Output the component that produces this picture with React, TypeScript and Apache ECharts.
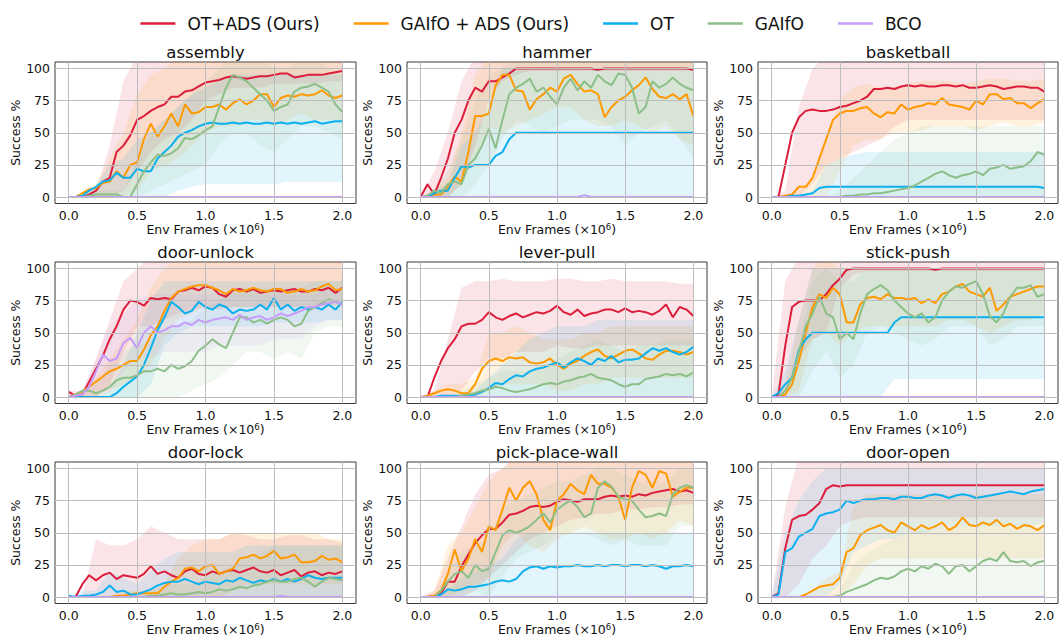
import React, { useEffect, useRef } from "react";
import * as echarts from "echarts";

const FRAMES = [0, 0.05, 0.1, 0.15, 0.2, 0.25, 0.3, 0.35, 0.4, 0.45, 0.5, 0.55, 0.6, 0.65, 0.7, 0.75, 0.8, 0.85, 0.9, 0.95, 1.0, 1.05, 1.1, 1.15, 1.2, 1.25, 1.3, 1.35, 1.4, 1.45, 1.5, 1.55, 1.6, 1.65, 1.7, 1.75, 1.8, 1.85, 1.9, 1.95, 2.0];
const BAND_FRAMES = [0, 0.1, 0.2, 0.3, 0.4, 0.5, 0.6, 0.7, 0.8, 0.9, 1.0, 1.1, 1.2, 1.3, 1.4, 1.5, 1.6, 1.7, 1.8, 1.9, 2.0];
const X_TICKS = [0, 0.5, 1.0, 1.5, 2.0];
const Y_TICKS = [0, 25, 50, 75, 100];
const METHODS = ["OT+ADS (Ours)", "GAIfO + ADS (Ours)", "OT", "GAIfO", "BCO"];
const COLORS = ["#dc1e3c", "#ff9900", "#0db0ee", "#8cbf88", "#c69cfa"];
const TASKS = ["assembly", "hammer", "basketball", "door-unlock", "lever-pull", "stick-push", "door-lock", "pick-place-wall", "door-open"];

const ZERO41 = [0, 0, 0, 0, 0, 0, 0, 0, 0, 0, 0, 0, 0, 0, 0, 0, 0, 0, 0, 0, 0, 0, 0, 0, 0, 0, 0, 0, 0, 0, 0, 0, 0, 0, 0, 0, 0, 0, 0, 0, 0];
const ZERO21 = [0, 0, 0, 0, 0, 0, 0, 0, 0, 0, 0, 0, 0, 0, 0, 0, 0, 0, 0, 0, 0];

// ---------- assembly ----------
const assembly_otAds = [0, 0, 0, 2, 5, 12, 15, 35, 40, 48, 60, 63, 67, 70, 72, 78, 78, 82, 83, 86, 89, 90, 91, 93, 94, 93, 92, 93, 94, 94, 95, 96, 96, 93, 94, 95, 95, 95, 96, 97, 98];
const assembly_gaifoAds = [0, 0, 3, 6, 7, 11, 12, 20, 15, 25, 27, 45, 57, 47, 55, 65, 55, 72, 65, 66, 70, 70, 72, 68, 73, 76, 72, 75, 80, 80, 70, 77, 79, 78, 80, 79, 80, 83, 79, 77, 79];
const assembly_ot = [0, 0, 1, 5, 8, 12, 13, 19, 15, 15, 22, 20, 20, 30, 35, 40, 47, 50, 52, 55, 57, 58, 57, 57, 58, 57, 58, 57, 57, 58, 57, 58, 57, 58, 57, 58, 59, 57, 58, 59, 59];
const assembly_gaifo = [0, 0, 0, 1, 2, 2, 2, 2, 0, 0, 10, 20, 27, 33, 32, 34, 38, 46, 45, 48, 52, 55, 70, 85, 95, 93, 90, 85, 80, 75, 67, 70, 72, 82, 85, 86, 88, 85, 82, 72, 66];
const assembly_bco = ZERO41;
const assembly_otAds_lo = [0, 0, 0, 0, 5, 20, 35, 45, 50, 60, 75, 80, 85, 85, 85, 88, 88, 88, 88, 90, 90];
const assembly_otAds_hi = [0, 0, 5, 40, 90, 110, 110, 110, 110, 110, 110, 110, 110, 110, 110, 110, 110, 110, 110, 110, 110];
const assembly_gaifoAds_lo = [0, 0, 0, 0, 0, 5, 20, 25, 30, 40, 50, 55, 55, 60, 60, 55, 60, 65, 60, 60, 60];
const assembly_gaifoAds_hi = [0, 0, 10, 30, 50, 80, 95, 100, 110, 110, 110, 110, 110, 110, 110, 110, 110, 110, 110, 110, 110];
const assembly_ot_lo = [0, 0, 0, 0, 0, 0, 0, 0, 5, 8, 10, 10, 10, 10, 10, 10, 12, 12, 12, 12, 12];
const assembly_ot_hi = [0, 0, 10, 25, 30, 45, 50, 60, 70, 80, 85, 90, 95, 95, 95, 95, 95, 95, 95, 95, 95];
const assembly_gaifo_lo = [0, 0, 0, 0, 0, 0, 5, 10, 15, 20, 25, 40, 50, 50, 40, 35, 45, 55, 55, 50, 45];
const assembly_gaifo_hi = [0, 0, 5, 5, 5, 30, 50, 60, 70, 80, 90, 100, 110, 110, 110, 100, 100, 110, 110, 100, 95];

// ---------- hammer ----------
const hammer_otAds = [0, 10, 2, 15, 30, 50, 60, 75, 85, 82, 90, 90, 93, 96, 100, 100, 100, 100, 100, 100, 100, 100, 100, 100, 100, 100, 99, 100, 100, 100, 100, 100, 100, 100, 100, 100, 100, 100, 100, 100, 99];
const hammer_gaifoAds = [0, 0, 2, 2, 8, 16, 12, 35, 63, 63, 65, 87, 95, 95, 83, 82, 68, 76, 80, 85, 82, 92, 95, 88, 82, 83, 80, 62, 70, 75, 78, 83, 87, 93, 84, 78, 77, 80, 76, 80, 63];
const hammer_ot = [0, 0, 3, 5, 5, 15, 24, 23, 25, 25, 25, 32, 35, 45, 50, 50, 50, 50, 50, 50, 50, 50, 50, 50, 50, 50, 50, 50, 50, 50, 50, 50, 50, 50, 50, 50, 50, 50, 50, 50, 50];
const hammer_gaifo = [0, 1, 5, 3, 10, 12, 10, 25, 30, 40, 53, 38, 60, 80, 85, 88, 92, 82, 85, 78, 72, 85, 92, 83, 90, 85, 95, 90, 87, 96, 95, 85, 65, 70, 90, 85, 88, 93, 88, 85, 83];
const hammer_bco = [0, 0, 0, 0, 0, 0, 0, 0, 0, 0, 0, 0, 0, 0, 0, 0, 0, 0, 0, 0, 0, 0, 0, 0, 1.5, 0, 0, 0, 0, 0, 0, 0, 0, 0, 0, 0, 0, 0, 0, 0, 0];
const hammer_otAds_lo = [0, 0, 0, 10, 40, 75, 90, 95, 98, 98, 98, 98, 98, 98, 98, 98, 98, 98, 98, 98, 98];
const hammer_otAds_hi = [0, 20, 50, 90, 110, 110, 110, 110, 110, 110, 110, 110, 110, 110, 110, 110, 110, 110, 110, 110, 110];
const hammer_gaifoAds_lo = [0, 0, 0, 10, 30, 55, 50, 55, 60, 65, 70, 70, 60, 55, 55, 60, 55, 50, 55, 45, 40];
const hammer_gaifoAds_hi = [0, 5, 15, 50, 95, 110, 110, 110, 110, 110, 110, 110, 110, 110, 110, 110, 110, 110, 110, 110, 110];
const hammer_ot_lo = ZERO21;
const hammer_ot_hi = [0, 5, 10, 40, 50, 70, 100, 100, 100, 100, 100, 100, 100, 100, 100, 100, 100, 100, 100, 100, 100];
const hammer_gaifo_lo = [0, 0, 0, 0, 10, 25, 45, 60, 55, 50, 55, 60, 60, 60, 55, 40, 50, 55, 60, 45, 30];
const hammer_gaifo_hi = [0, 5, 20, 45, 75, 95, 100, 110, 110, 110, 110, 110, 110, 110, 110, 110, 110, 110, 110, 110, 110];

// ---------- basketball ----------
const basketball_otAds = [0, 0, 25, 50, 62, 67, 68, 67, 67, 68, 70, 71, 73, 75, 78, 84, 84, 85, 84, 86, 87, 86, 87, 86, 86, 87, 87, 86, 87, 85, 85, 86, 87, 86, 84, 85, 86, 86, 85, 85, 82];
const basketball_gaifoAds = [0, 0, 1, 2, 8, 8, 15, 30, 45, 60, 65, 67, 67, 69, 70, 65, 62, 66, 65, 72, 68, 70, 71, 73, 72, 77, 72, 71, 70, 68, 75, 72, 80, 80, 76, 77, 73, 73, 69, 73, 76];
const basketball_ot = [0, 0, 0, 1, 1, 2, 3, 7, 8, 8, 8, 8, 8, 8, 8, 8, 8, 8, 8, 8, 8, 8, 8, 8, 8, 8, 8, 8, 8, 8, 8, 8, 8, 8, 8, 8, 8, 8, 8, 8, 7];
const basketball_gaifo = [0, 0, 0, 0, 0, 0, 0, 0, 0, 0, 0, 1, 1, 2, 2, 3, 3, 4, 5, 6, 7, 9, 12, 15, 18, 20, 17, 15, 17, 18, 20, 17, 22, 23, 25, 22, 23, 24, 28, 35, 33];
const basketball_bco = ZERO41;
const basketball_otAds_lo = [0, 0, 0, 10, 25, 30, 35, 40, 45, 55, 60, 60, 60, 60, 60, 60, 60, 60, 60, 60, 60];
const basketball_otAds_hi = [0, 5, 70, 100, 110, 110, 110, 110, 110, 110, 110, 110, 110, 110, 110, 110, 110, 110, 110, 110, 110];
const basketball_gaifoAds_lo = [0, 0, 0, 0, 0, 20, 40, 45, 45, 50, 50, 52, 55, 55, 55, 52, 55, 58, 55, 55, 58];
const basketball_gaifoAds_hi = [0, 0, 5, 15, 45, 75, 85, 88, 85, 85, 88, 90, 90, 90, 88, 90, 92, 92, 90, 90, 92];
const basketball_ot_lo = ZERO21;
const basketball_ot_hi = [0, 0, 0, 5, 25, 30, 33, 35, 35, 35, 35, 35, 35, 35, 35, 35, 35, 35, 35, 35, 35];
const basketball_gaifo_lo = ZERO21;
const basketball_gaifo_hi = [0, 0, 0, 0, 0, 5, 15, 25, 35, 45, 50, 55, 55, 55, 55, 55, 55, 55, 55, 55, 55];

// ---------- door-unlock ----------
const doorUnlock_otAds = [4, 1, 2, 12, 22, 32, 45, 55, 68, 75, 74, 71, 77, 76, 77, 76, 82, 83, 85, 83, 86, 85, 80, 78, 83, 84, 82, 84, 81, 82, 83, 82, 83, 84, 82, 82, 84, 83, 85, 81, 85];
const doorUnlock_gaifoAds = [0, 2, 4, 8, 12, 16, 20, 22, 25, 28, 28, 37, 48, 55, 67, 77, 82, 84, 86, 87, 87, 85, 83, 80, 84, 82, 83, 85, 83, 82, 84, 84, 81, 82, 84, 82, 83, 86, 88, 83, 84];
const doorUnlock_ot = [0, 0, 0, 0, 0, 0, 0, 3, 8, 12, 16, 25, 38, 52, 62, 74, 70, 65, 67, 74, 70, 68, 72, 70, 65, 68, 67, 68, 72, 68, 77, 68, 72, 67, 70, 68, 70, 68, 72, 68, 74];
const doorUnlock_gaifo = [0, 2, 5, 5, 3, 5, 8, 13, 15, 15, 17, 20, 20, 22, 20, 25, 22, 24, 28, 36, 40, 45, 41, 38, 50, 62, 62, 58, 60, 57, 60, 62, 60, 55, 57, 67, 70, 73, 76, 74, 72];
const doorUnlock_bco = [0, 1, 2, 8, 20, 33, 28, 30, 42, 46, 38, 50, 55, 50, 52, 55, 55, 58, 56, 60, 58, 60, 61, 62, 60, 64, 60, 62, 63, 60, 62, 65, 63, 65, 67, 70, 70, 72, 73, 74, 72];
const doorUnlock_otAds_lo = [0, 0, 0, 10, 35, 55, 55, 60, 65, 68, 70, 68, 70, 70, 70, 70, 70, 70, 70, 72, 72];
const doorUnlock_otAds_hi = [5, 5, 30, 60, 90, 100, 110, 110, 110, 110, 110, 110, 110, 110, 110, 110, 110, 110, 110, 110, 110];
const doorUnlock_gaifoAds_lo = [0, 0, 0, 5, 10, 15, 25, 45, 60, 65, 70, 70, 70, 70, 70, 70, 70, 70, 70, 70, 70];
const doorUnlock_gaifoAds_hi = [0, 5, 15, 30, 45, 60, 85, 100, 110, 110, 110, 110, 110, 110, 110, 110, 110, 110, 110, 110, 110];
const doorUnlock_ot_lo = [0, 0, 0, 0, 0, 0, 10, 40, 50, 55, 55, 55, 55, 55, 55, 58, 58, 58, 58, 60, 60];
const doorUnlock_ot_hi = [0, 0, 0, 5, 25, 50, 75, 90, 90, 90, 90, 90, 90, 90, 90, 90, 90, 90, 90, 90, 90];
const doorUnlock_gaifo_lo = [0, 0, 0, 0, 0, 0, 0, 0, 0, 5, 10, 15, 25, 35, 35, 30, 35, 30, 50, 55, 55];
const doorUnlock_gaifo_hi = [0, 5, 10, 25, 35, 40, 45, 50, 55, 60, 70, 75, 85, 85, 85, 85, 85, 85, 90, 90, 90];
const doorUnlock_bco_lo = [0, 0, 0, 5, 20, 30, 30, 35, 35, 35, 35, 40, 40, 40, 40, 45, 45, 45, 55, 60, 60];
const doorUnlock_bco_hi = [0, 5, 30, 55, 65, 75, 80, 80, 80, 80, 80, 80, 80, 80, 80, 80, 80, 80, 80, 85, 85];

// ---------- lever-pull ----------
const leverPull_otAds = [0, 0, 15, 28, 38, 45, 55, 57, 57, 60, 66, 62, 60, 63, 65, 62, 64, 66, 65, 67, 71, 66, 64, 68, 63, 65, 66, 68, 68, 66, 69, 66, 67, 66, 64, 67, 72, 62, 70, 68, 63];
const leverPull_gaifoAds = [0, 1, 3, 5, 6, 5, 3, 3, 10, 22, 28, 30, 28, 31, 30, 31, 27, 26, 27, 30, 25, 22, 26, 28, 32, 35, 37, 32, 30, 33, 36, 37, 34, 30, 29, 33, 36, 36, 35, 33, 35];
const leverPull_ot = [0, 0, 0, 1, 1, 1, 1, 1, 2, 4, 7, 11, 10, 14, 17, 16, 20, 22, 23, 25, 27, 23, 27, 30, 28, 25, 30, 28, 32, 27, 29, 29, 30, 34, 38, 36, 38, 35, 33, 35, 39];
const leverPull_gaifo = [0, 0, 0, 0, 0, 0, 1, 2, 3, 5, 6, 8, 7, 5, 4, 5, 6, 8, 10, 11, 10, 12, 13, 15, 16, 18, 15, 14, 13, 10, 8, 10, 10, 14, 15, 16, 18, 17, 18, 16, 19];
const leverPull_bco = ZERO41;
const leverPull_otAds_lo = [0, 0, 0, 5, 20, 30, 30, 35, 35, 35, 40, 38, 38, 40, 40, 40, 40, 40, 40, 40, 40];
const leverPull_otAds_hi = [0, 5, 45, 85, 90, 90, 92, 90, 90, 90, 92, 92, 90, 90, 92, 90, 90, 90, 90, 88, 88];
const leverPull_gaifoAds_lo = [0, 0, 0, 0, 0, 5, 10, 10, 10, 10, 5, 5, 10, 10, 15, 15, 15, 15, 15, 15, 15];
const leverPull_gaifoAds_hi = [0, 5, 10, 10, 15, 50, 50, 55, 50, 45, 45, 45, 50, 50, 55, 55, 55, 55, 55, 55, 55];
const leverPull_ot_lo = ZERO21;
const leverPull_ot_hi = [0, 0, 0, 0, 5, 15, 25, 35, 45, 50, 55, 55, 55, 60, 60, 60, 60, 60, 60, 60, 60];
const leverPull_gaifo_lo = ZERO21;
const leverPull_gaifo_hi = [0, 0, 0, 5, 10, 15, 20, 20, 20, 25, 30, 35, 40, 45, 40, 35, 40, 40, 45, 45, 45];

// ---------- stick-push ----------
const stickPush_otAds = [0, 2, 40, 70, 74, 75, 75, 75, 80, 87, 92, 99, 100, 100, 100, 100, 100, 100, 100, 100, 100, 100, 100, 100, 99, 100, 100, 100, 100, 100, 100, 100, 100, 100, 100, 100, 100, 100, 100, 100, 100];
const stickPush_gaifoAds = [0, 0, 2, 10, 28, 50, 70, 80, 77, 85, 80, 58, 58, 72, 77, 78, 76, 80, 77, 77, 76, 77, 73, 76, 73, 80, 82, 86, 88, 82, 80, 78, 85, 67, 72, 78, 80, 82, 84, 86, 86];
const stickPush_ot = [0, 3, 10, 15, 37, 45, 50, 50, 50, 50, 50, 50, 50, 50, 50, 50, 50, 50, 58, 62, 62, 62, 62, 62, 62, 62, 62, 62, 62, 62, 62, 62, 62, 62, 62, 62, 62, 62, 62, 62, 62];
const stickPush_gaifo = [0, 0, 5, 15, 35, 55, 65, 78, 65, 62, 45, 50, 45, 65, 80, 84, 87, 83, 75, 70, 65, 62, 65, 58, 62, 75, 82, 86, 85, 88, 90, 80, 63, 58, 65, 78, 85, 85, 87, 78, 80];
const stickPush_bco = ZERO41;
const stickPush_otAds_lo = [0, 0, 30, 45, 50, 85, 95, 98, 98, 98, 98, 98, 98, 98, 98, 98, 98, 98, 98, 98, 98];
const stickPush_otAds_hi = [0, 90, 110, 110, 110, 110, 110, 110, 110, 110, 110, 110, 110, 110, 110, 110, 110, 110, 110, 110, 110];
const stickPush_gaifoAds_lo = [0, 0, 5, 45, 50, 40, 50, 55, 55, 55, 55, 55, 55, 60, 60, 55, 50, 55, 60, 60, 65];
const stickPush_gaifoAds_hi = [0, 10, 60, 100, 110, 100, 100, 100, 100, 100, 100, 100, 100, 100, 100, 100, 100, 100, 100, 100, 100];
const stickPush_ot_lo = [0, 0, 0, 0, 0, 0, 0, 0, 0, 14, 14, 14, 14, 14, 14, 14, 14, 14, 14, 14, 14];
const stickPush_ot_hi = [0, 20, 60, 100, 100, 100, 100, 100, 100, 100, 100, 100, 100, 100, 100, 100, 100, 100, 100, 100, 100];
const stickPush_gaifo_lo = [0, 0, 0, 20, 35, 15, 25, 50, 55, 50, 45, 40, 45, 55, 55, 55, 40, 45, 55, 55, 55];
const stickPush_gaifo_hi = [0, 5, 40, 90, 100, 90, 90, 100, 100, 100, 100, 100, 100, 100, 100, 100, 100, 100, 100, 100, 100];

// ---------- door-lock ----------
const doorLock_otAds = [0, 0, 10, 17, 13, 17, 19, 14, 17, 16, 15, 18, 24, 18, 20, 17, 15, 20, 22, 18, 17, 20, 18, 20, 21, 19, 21, 23, 20, 19, 21, 17, 19, 21, 16, 19, 20, 17, 19, 18, 20];
const doorLock_gaifoAds = [0, 0, 0, 0, 0, 0, 0, 1, 1, 2, 3, 3, 3, 3, 8, 12, 15, 22, 23, 20, 24, 25, 18, 20, 22, 30, 31, 33, 30, 32, 36, 30, 31, 33, 27, 27, 28, 32, 29, 30, 27];
const doorLock_ot = [1, 0, 1, 1, 2, 4, 9, 4, 5, 2, 2, 4, 6, 9, 11, 12, 12, 14, 12, 10, 12, 11, 10, 13, 12, 15, 13, 11, 13, 12, 14, 12, 14, 12, 14, 17, 15, 14, 15, 15, 15];
const doorLock_gaifo = [0, 0, 0, 0, 0, 0, 0, 0, 0, 0, 0, 0, 1, 1, 2, 3, 2, 2, 3, 4, 3, 4, 6, 5, 6, 8, 7, 9, 10, 12, 13, 12, 12, 14, 15, 12, 8, 12, 15, 14, 13];
const doorLock_bco = [0, 0, 0, 0, 0, 0, 0, 0, 0, 0, 0, 0, 0, 0, 0, 0, 0, 0, 0, 0, 0, 0, 0, 0, 0, 0, 0, 0, 0, 0, 0, 1, 0, 0, 0, 0, 0, 0, 0, 0, 0];
const doorLock_otAds_lo = ZERO21;
const doorLock_otAds_hi = [0, 0, 45, 40, 40, 45, 55, 50, 45, 45, 45, 45, 50, 48, 45, 45, 48, 48, 45, 45, 42];
const doorLock_gaifoAds_lo = [0, 0, 0, 0, 0, 0, 0, 0, 0, 0, 0, 0, 5, 10, 10, 10, 10, 10, 10, 10, 10];
const doorLock_gaifoAds_hi = [0, 0, 0, 0, 5, 5, 5, 10, 30, 40, 45, 45, 50, 50, 50, 50, 50, 50, 50, 45, 45];
const doorLock_ot_lo = ZERO21;
const doorLock_ot_hi = [0, 5, 5, 20, 15, 10, 20, 30, 35, 35, 35, 35, 35, 40, 40, 40, 40, 40, 40, 40, 40];
const doorLock_gaifo_lo = ZERO21;
const doorLock_gaifo_hi = [0, 0, 0, 0, 0, 0, 5, 10, 10, 10, 15, 20, 25, 30, 35, 40, 40, 40, 40, 40, 40];

// ---------- pick-place-wall ----------
const pickPlaceWall_otAds = [0, 0, 1, 3, 12, 12, 24, 33, 42, 48, 53, 53, 58, 64, 65, 67, 70, 71, 70, 71, 74, 76, 75, 74, 76, 76, 76, 78, 79, 78, 79, 78, 80, 79, 81, 82, 83, 84, 82, 83, 81];
const pickPlaceWall_gaifoAds = [0, 0, 1, 5, 18, 37, 20, 30, 45, 35, 55, 52, 68, 85, 75, 85, 90, 80, 60, 52, 75, 80, 88, 83, 80, 95, 88, 88, 85, 78, 60, 85, 98, 95, 85, 98, 96, 78, 82, 85, 85];
const pickPlaceWall_ot = [0, 0, 0, 2, 6, 5, 6, 8, 8, 9, 10, 12, 13, 12, 14, 20, 23, 24, 22, 24, 23, 24, 24, 25, 24, 24, 25, 24, 25, 25, 24, 25, 25, 24, 25, 24, 22, 24, 24, 25, 24];
const pickPlaceWall_gaifo = [0, 0, 0, 5, 12, 18, 20, 15, 25, 20, 22, 35, 48, 52, 50, 52, 55, 60, 65, 58, 68, 72, 75, 70, 62, 65, 85, 90, 86, 78, 76, 75, 68, 62, 63, 65, 63, 80, 85, 87, 85];
const pickPlaceWall_bco = ZERO41;
const pickPlaceWall_otAds_lo = [0, 0, 0, 0, 5, 15, 25, 35, 45, 50, 55, 60, 62, 65, 65, 68, 68, 70, 70, 72, 72];
const pickPlaceWall_otAds_hi = [0, 5, 30, 55, 80, 95, 100, 110, 110, 110, 110, 110, 110, 110, 110, 110, 110, 110, 110, 110, 110];
const pickPlaceWall_gaifoAds_lo = [0, 0, 0, 5, 10, 15, 40, 50, 40, 35, 45, 50, 55, 50, 45, 45, 50, 45, 50, 60, 55];
const pickPlaceWall_gaifoAds_hi = [0, 5, 40, 50, 70, 90, 100, 110, 110, 110, 110, 110, 110, 110, 110, 110, 110, 110, 110, 110, 110];
const pickPlaceWall_ot_lo = ZERO21;
const pickPlaceWall_ot_hi = [0, 0, 5, 15, 20, 25, 30, 45, 50, 50, 50, 50, 50, 50, 50, 50, 50, 50, 50, 50, 50];
const pickPlaceWall_gaifo_lo = [0, 0, 0, 0, 5, 0, 15, 30, 35, 40, 50, 50, 50, 45, 40, 45, 40, 40, 40, 55, 55];
const pickPlaceWall_gaifo_hi = [0, 0, 20, 35, 40, 45, 70, 75, 80, 85, 90, 90, 95, 100, 100, 95, 90, 90, 90, 100, 100];

// ---------- door-open ----------
const doorOpen_otAds = [0, 3, 38, 60, 63, 64, 68, 73, 84, 87, 86, 87, 87, 87, 87, 87, 87, 87, 87, 87, 87, 87, 87, 87, 87, 87, 87, 87, 87, 87, 87, 87, 87, 87, 87, 87, 87, 87, 87, 87, 87];
const doorOpen_gaifoAds = [0, 0, 0, 0, 0, 2, 5, 8, 9, 10, 15, 35, 38, 48, 52, 54, 56, 52, 50, 58, 55, 52, 56, 53, 55, 58, 52, 55, 62, 56, 55, 58, 56, 60, 55, 57, 53, 56, 55, 52, 56];
const doorOpen_ot = [0, 2, 35, 38, 47, 50, 53, 63, 65, 66, 68, 75, 73, 75, 76, 76, 77, 77, 76, 78, 78, 77, 77, 79, 80, 79, 77, 79, 80, 79, 77, 78, 79, 80, 81, 82, 81, 80, 82, 83, 84];
const doorOpen_gaifo = [0, 0, 0, 0, 0, 0, 0, 0, 0, 0, 1, 4, 6, 8, 10, 13, 15, 14, 16, 20, 22, 20, 24, 22, 26, 24, 18, 24, 25, 20, 24, 28, 30, 28, 35, 28, 27, 28, 24, 27, 28];
const doorOpen_bco = ZERO41;
const doorOpen_otAds_lo = [0, 0, 10, 30, 40, 55, 60, 62, 62, 62, 62, 62, 62, 62, 62, 62, 62, 62, 62, 62, 62];
const doorOpen_otAds_hi = [0, 70, 110, 110, 110, 110, 110, 110, 110, 110, 110, 110, 110, 110, 110, 110, 110, 110, 110, 110, 110];
const doorOpen_gaifoAds_lo = [0, 0, 0, 0, 0, 0, 10, 25, 30, 30, 30, 30, 30, 30, 30, 30, 30, 30, 30, 30, 30];
const doorOpen_gaifoAds_hi = [0, 0, 0, 5, 15, 20, 70, 80, 80, 80, 80, 80, 80, 80, 80, 80, 80, 80, 80, 80, 80];
const doorOpen_ot_lo = [0, 0, 0, 0, 0, 10, 35, 40, 45, 45, 50, 50, 52, 55, 55, 55, 55, 55, 55, 55, 58];
const doorOpen_ot_hi = [0, 50, 75, 90, 100, 100, 100, 100, 100, 100, 100, 100, 100, 100, 100, 100, 100, 100, 100, 100, 100];
const doorOpen_gaifo_lo = ZERO21;
const doorOpen_gaifo_hi = [0, 0, 0, 0, 0, 5, 25, 35, 40, 45, 50, 52, 52, 55, 55, 55, 55, 55, 55, 55, 55];

type Band = [number[], number[]] | null;
interface Panel { lines: number[][]; bands: Band[]; }

const PANELS: Panel[] = [
  { lines: [assembly_otAds, assembly_gaifoAds, assembly_ot, assembly_gaifo, assembly_bco],
    bands: [[assembly_otAds_lo, assembly_otAds_hi], [assembly_gaifoAds_lo, assembly_gaifoAds_hi], [assembly_ot_lo, assembly_ot_hi], [assembly_gaifo_lo, assembly_gaifo_hi], null] },
  { lines: [hammer_otAds, hammer_gaifoAds, hammer_ot, hammer_gaifo, hammer_bco],
    bands: [[hammer_otAds_lo, hammer_otAds_hi], [hammer_gaifoAds_lo, hammer_gaifoAds_hi], [hammer_ot_lo, hammer_ot_hi], [hammer_gaifo_lo, hammer_gaifo_hi], null] },
  { lines: [basketball_otAds, basketball_gaifoAds, basketball_ot, basketball_gaifo, basketball_bco],
    bands: [[basketball_otAds_lo, basketball_otAds_hi], [basketball_gaifoAds_lo, basketball_gaifoAds_hi], [basketball_ot_lo, basketball_ot_hi], [basketball_gaifo_lo, basketball_gaifo_hi], null] },
  { lines: [doorUnlock_otAds, doorUnlock_gaifoAds, doorUnlock_ot, doorUnlock_gaifo, doorUnlock_bco],
    bands: [[doorUnlock_otAds_lo, doorUnlock_otAds_hi], [doorUnlock_gaifoAds_lo, doorUnlock_gaifoAds_hi], [doorUnlock_ot_lo, doorUnlock_ot_hi], [doorUnlock_gaifo_lo, doorUnlock_gaifo_hi], [doorUnlock_bco_lo, doorUnlock_bco_hi]] },
  { lines: [leverPull_otAds, leverPull_gaifoAds, leverPull_ot, leverPull_gaifo, leverPull_bco],
    bands: [[leverPull_otAds_lo, leverPull_otAds_hi], [leverPull_gaifoAds_lo, leverPull_gaifoAds_hi], [leverPull_ot_lo, leverPull_ot_hi], [leverPull_gaifo_lo, leverPull_gaifo_hi], null] },
  { lines: [stickPush_otAds, stickPush_gaifoAds, stickPush_ot, stickPush_gaifo, stickPush_bco],
    bands: [[stickPush_otAds_lo, stickPush_otAds_hi], [stickPush_gaifoAds_lo, stickPush_gaifoAds_hi], [stickPush_ot_lo, stickPush_ot_hi], [stickPush_gaifo_lo, stickPush_gaifo_hi], null] },
  { lines: [doorLock_otAds, doorLock_gaifoAds, doorLock_ot, doorLock_gaifo, doorLock_bco],
    bands: [[doorLock_otAds_lo, doorLock_otAds_hi], [doorLock_gaifoAds_lo, doorLock_gaifoAds_hi], [doorLock_ot_lo, doorLock_ot_hi], [doorLock_gaifo_lo, doorLock_gaifo_hi], null] },
  { lines: [pickPlaceWall_otAds, pickPlaceWall_gaifoAds, pickPlaceWall_ot, pickPlaceWall_gaifo, pickPlaceWall_bco],
    bands: [[pickPlaceWall_otAds_lo, pickPlaceWall_otAds_hi], [pickPlaceWall_gaifoAds_lo, pickPlaceWall_gaifoAds_hi], [pickPlaceWall_ot_lo, pickPlaceWall_ot_hi], [pickPlaceWall_gaifo_lo, pickPlaceWall_gaifo_hi], null] },
  { lines: [doorOpen_otAds, doorOpen_gaifoAds, doorOpen_ot, doorOpen_gaifo, doorOpen_bco],
    bands: [[doorOpen_otAds_lo, doorOpen_otAds_hi], [doorOpen_gaifoAds_lo, doorOpen_gaifoAds_hi], [doorOpen_ot_lo, doorOpen_ot_hi], [doorOpen_gaifo_lo, doorOpen_gaifo_hi], null] },
];

const FONT = "DejaVu Sans";
const COL_LEFT = [55, 407, 758];
const COL_WIDTH = [301, 300, 300];
const ROW_TOP = [62, 262, 462];
const PLOT_H = 141.5;

function buildOption() {
  const grids: any[] = [];
  const xAxes: any[] = [];
  const yAxes: any[] = [];
  const series: any[] = [];
  const graphics: any[] = [];

  PANELS.forEach((panel, i) => {
    const col = i % 3;
    const row = Math.floor(i / 3);
    grids.push({
      left: COL_LEFT[col], top: ROW_TOP[row], width: COL_WIDTH[col], height: PLOT_H,
      show: true, borderColor: "#3a3a3a", borderWidth: 1, backgroundColor: "transparent",
    });
    xAxes.push({
      type: "value", gridIndex: i, min: -0.1, max: 2.1,
      axisLine: { show: false },
      splitLine: { show: false },
      axisTick: { show: true, inside: false, length: 3.5, lineStyle: { color: "#333", width: 1 }, customValues: X_TICKS },
      axisLabel: { customValues: X_TICKS, formatter: (v: number) => v.toFixed(1), margin: 5, fontSize: 12.5, fontFamily: FONT, color: "#111" },
      name: "Env Frames (×10{sup|6})",
      nameLocation: "middle", nameGap: 19,
      nameTextStyle: { fontSize: 12.5, fontFamily: FONT, color: "#111", rich: { sup: { fontSize: 8.5, fontFamily: FONT, color: "#111", verticalAlign: "top", lineHeight: 14 } } },
    });
    yAxes.push({
      type: "value", gridIndex: i, min: -5, max: 105,
      axisLine: { show: false },
      splitLine: { show: false },
      axisTick: { show: true, inside: false, length: 3.5, lineStyle: { color: "#333", width: 1 }, customValues: Y_TICKS },
      axisLabel: { customValues: Y_TICKS, margin: 5, fontSize: 12.5, fontFamily: FONT, color: "#111" },
      name: "Success %", nameLocation: "middle", nameGap: 28,
      nameTextStyle: { fontSize: 12.5, fontFamily: FONT, color: "#111" },
    });
    // grid lines
    series.push({
      type: "line", name: "_grid", xAxisIndex: i, yAxisIndex: i, data: [], z: 2, silent: true,
      markLine: {
        silent: true, symbol: ["none", "none"], label: { show: false }, animation: false,
        lineStyle: { color: "#bdbdbd", width: 1, type: "solid" },
        data: [...X_TICKS.map((v) => ({ xAxis: v })), ...Y_TICKS.map((v) => ({ yAxis: v }))],
      },
    });
    // shaded bands (one polygon per method, drawn through the axes' scales)
    panel.bands.forEach((band, m) => {
      if (!band) return;
      const [lo, hi] = band;
      const color = COLORS[m];
      series.push({
        type: "custom", name: "_band", xAxisIndex: i, yAxisIndex: i, silent: true, z: 1, clip: true,
        data: BAND_FRAMES.map((x, k) => [x, lo[k], hi[k]]),
        encode: { x: 0, y: [1, 2] },
        renderItem: (params: any, api: any) => {
          if (params.dataIndex !== 0) return null;
          const top = BAND_FRAMES.map((x, k) => api.coord([x, hi[k]]));
          const bottom = BAND_FRAMES.map((x, k) => api.coord([x, lo[k]])).reverse();
          return {
            type: "polygon",
            shape: { points: [...top, ...bottom] },
            style: { fill: color, opacity: 0.12 },
          };
        },
      });
    });
    // mean lines
    panel.lines.forEach((vals, m) => {
      series.push({
        type: "line", name: METHODS[m], xAxisIndex: i, yAxisIndex: i,
        data: FRAMES.map((x, k) => [x, vals[k]]), symbol: "none", showSymbol: false,
        lineStyle: { color: COLORS[m], width: 2 }, itemStyle: { color: COLORS[m] }, z: 3,
      });
    });
    graphics.push({
      type: "text", x: COL_LEFT[col] + COL_WIDTH[col] / 2, y: ROW_TOP[row] - 10,
      style: { text: TASKS[i], fontSize: 16.5, fontFamily: FONT, fill: "#111", textAlign: "center", textVerticalAlign: "middle" },
    });
  });

  return {
    animation: false,
    backgroundColor: "#ffffff",
    legend: {
      data: METHODS, top: 10, left: "center", icon: "rect", itemWidth: 35, itemHeight: 2.5, itemGap: 34,
      textStyle: { fontSize: 17, fontFamily: FONT, color: "#111", padding: [0, 0, 0, 7] },
    },
    grid: grids, xAxis: xAxes, yAxis: yAxes, series, graphic: graphics,
  };
}

export default function App() {
  const ref = useRef<HTMLDivElement>(null);
  useEffect(() => {
    if (!ref.current) return;
    const chart = echarts.init(ref.current, undefined, { renderer: "svg" });
    chart.setOption(buildOption() as any);
    return () => chart.dispose();
  }, []);
  return <div ref={ref} style={{ position: "fixed", left: 0, top: 0, width: 1062, height: 640, background: "#fff" }} />;
}
